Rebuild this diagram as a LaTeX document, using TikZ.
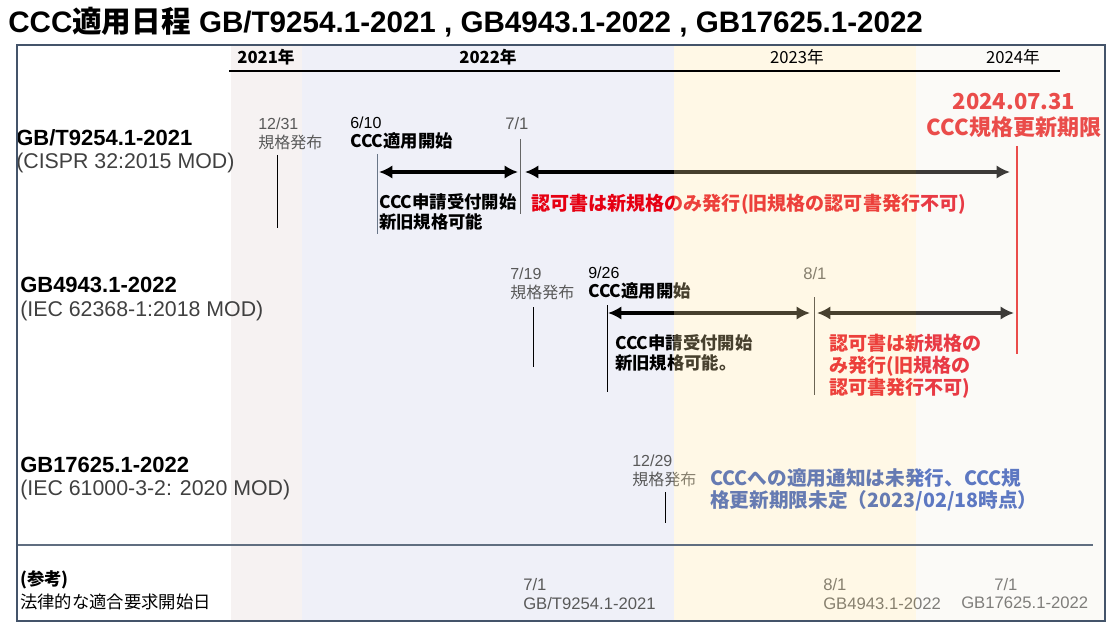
\documentclass[tikz,border=0pt]{standalone}
\usepackage{fontspec}
\setmainfont{Noto Sans CJK JP}
\newfontfamily\latinfont{Liberation Sans}
\usetikzlibrary{arrows.meta}

\definecolor{framec}{HTML}{44546A}
\definecolor{bgone}{HTML}{F6F2F2}
\definecolor{bgtwo}{HTML}{EFF0F8}
\definecolor{ovthree}{HTML}{FFE6A6}
\definecolor{ovfour}{HTML}{F0EBE0}
\definecolor{dategray}{HTML}{595959}
\definecolor{subgray}{HTML}{404040}
\definecolor{notered}{HTML}{E60012}
\definecolor{limitred}{HTML}{E81818}
\definecolor{noteblue}{HTML}{2C52B8}

\tikzset{
  txt/.style={anchor=west, inner sep=0pt, align=left},
  stdname/.style={txt, font=\latinfont\bfseries\fontsize{16.5pt}{20pt}\selectfont},
  stdorig/.style={txt, text=subgray, font=\latinfont\fontsize{16pt}{20pt}\selectfont},
  datetxt/.style={txt, text=dategray, font=\fontsize{12pt}{14.25pt}\selectfont},
  boldtxt/.style={txt, font=\bfseries\fontsize{13pt}{15pt}\selectfont},
  rednote/.style={txt, text=notered, font=\bfseries\fontsize{14.3pt}{16.5pt}\selectfont},
  yearhd/.style={inner sep=0pt, font=\fontsize{12.5pt}{14pt}\selectfont},
  tick/.style={line width=0.75pt},
  period/.style={line width=2.8pt, {Latex[length=10pt,width=10pt]}-{Latex[length=10pt,width=10pt]}},
}

\begin{document}
\begin{tikzpicture}[x=0.75pt,y=-0.75pt]
	\useasboundingbox (0,0) rectangle (1114,631);
	% year columns under the content
	\fill[bgone] (231,45) rectangle (302,621);
	\fill[bgtwo] (302,45) rectangle (674,621);

	% title
	\node (title) at (8,22)[txt, font=\bfseries\fontsize{22.2pt}{24pt}\selectfont] {{\latinfont CCC}適用日程{\latinfont\ GB/T9254.1-2021 , GB4943.1-2022 , GB17625.1-2022}};

	% GB/T9254.1-2021
	\node (gbt) at (16,138)[stdname] {GB/T9254.1-2021};
	\node (cispr) at (16,163)[stdorig] {(CISPR 32:2015 MOD)};
	\node (pubA) at (258,133.5)[datetxt] {{\latinfont 12/31}\\規格発布};
	\node (cccA) at (350,133.5)[datetxt, text=black] {{\latinfont 6/10}\\\textbf{\fontsize{13pt}{15pt}\selectfont CCC適用開始}};
	\node (reqA) at (505,124)[datetxt, font=\latinfont\fontsize{12.5pt}{14pt}\selectfont] {7/1};
	\node (accA) at (379,212)[boldtxt] {CCC申請受付開始\\新旧規格可能};
	\node (onlyA) at (531,204)[rednote] {認可書は新規格のみ発行(旧規格の認可書発行不可)};
	\coordinate (tA1) at (277,155); \coordinate (bA1) at (277,228);
	\coordinate (tA2) at (377,154); \coordinate (bA2) at (377,234);
	\coordinate (tA3) at (520,139); \coordinate (bA3) at (520,214);
	\draw[tick] (tA1) -- (bA1);
	\draw[tick, framec!80] (tA2) -- (bA2);
	\draw[tick, black!60] (tA3) -- (bA3);
	\coordinate (aA1) at (379,172); \coordinate (aA2) at (518,172);
	\coordinate (aA3) at (525,172); \coordinate (aA4) at (1010,172);
	\draw[period] (aA1) -- (aA2);
	\draw[period] (aA3) -- (aA4);

	% deadline
	\node (limit) at (1014,115)[align=center, inner sep=0pt, text=limitred, font=\bfseries\fontsize{16.5pt}{19.5pt}\selectfont] {2024.07.31\\CCC規格更新期限};
	\coordinate (lim1) at (1017,146); \coordinate (lim2) at (1017,354);
	\draw[limitred, line width=2.2pt] (lim1) -- (lim2);

	% GB4943.1-2022
	\node (gbb) at (20,285)[stdname] {GB4943.1-2022};
	\node (iecB) at (20,311)[stdorig] {(IEC 62368-1:2018 MOD)};
	\node (pubB) at (510,283.5)[datetxt] {{\latinfont 7/19}\\規格発布};
	\node (cccB) at (588,283.5)[datetxt, text=black] {{\latinfont 9/26}\\\textbf{\fontsize{13pt}{15pt}\selectfont CCC適用開始}};
	\node (reqB) at (803,274)[datetxt, font=\latinfont\fontsize{12.5pt}{14pt}\selectfont] {8/1};
	\node (accB) at (615,353)[boldtxt] {CCC申請受付開始\\新旧規格可能。};
	\node (onlyB) at (829,366)[rednote] {認可書は新規格の\\み発行(旧規格の\\認可書発行不可)};
	\coordinate (tB1) at (533,307); \coordinate (bB1) at (533,367);
	\coordinate (tB2) at (607,305); \coordinate (bB2) at (607,392);
	\coordinate (tB3) at (814,297); \coordinate (bB3) at (814,395);
	\draw[tick] (tB1) -- (bB1);
	\draw[tick] (tB2) -- (bB2);
	\draw[tick, black!80] (tB3) -- (bB3);
	\coordinate (aB1) at (608,313); \coordinate (aB2) at (810,313);
	\coordinate (aB3) at (817,313); \coordinate (aB4) at (1014,313);
	\draw[period] (aB1) -- (aB2);
	\draw[period] (aB3) -- (aB4);

	% GB17625.1-2022
	\node (gbc) at (20,465)[stdname] {GB17625.1-2022};
	\node (iecC) at (20,490)[stdorig] {(IEC 61000-3-2: 2020 MOD)};
	\node (pubC) at (632,471)[datetxt] {{\latinfont 12/29}\\規格発布};
	\node (noteC) at (710,490)[txt, text=noteblue, font=\bfseries\fontsize{14.75pt}{16.5pt}\selectfont] {CCCへの適用通知は未発行、CCC規\\格更新期限未定（2023/02/18時点）};
	\coordinate (tC1) at (665,492); \coordinate (bC1) at (665,523);
	\draw[tick] (tC1) -- (bC1);

	% reference dates
	\node (refhd) at (20,590.5)[txt, font=\fontsize{13pt}{17pt}\selectfont] {\textbf{(参考)}\\法律的な適合要求開始日};
	\node (lawA) at (523,594)[datetxt, font=\latinfont\fontsize{12.5pt}{14.25pt}\selectfont] {7/1\\GB/T9254.1-2021};
	\node (lawB) at (823,594)[datetxt, font=\latinfont\fontsize{12.5pt}{14.25pt}\selectfont] {8/1\\GB4943.1-2022};
	\node (lawCd) at (994,585)[datetxt, font=\latinfont\fontsize{12.5pt}{14pt}\selectfont] {7/1};
	\node (lawCs) at (961,603)[datetxt, font=\latinfont\fontsize{12.5pt}{14pt}\selectfont] {GB17625.1-2022};

	% year columns over the content
	\fill[ovthree, opacity=0.28] (674,45) rectangle (916,621);
	\fill[ovfour, opacity=0.25] (916,45) rectangle (1105,621);

	% year header
	\node (yr1) at (266,57)[yearhd, font=\bfseries\fontsize{12.5pt}{14pt}\selectfont] {2021年};
	\node (yr2) at (488,57)[yearhd, font=\bfseries\fontsize{12.5pt}{14pt}\selectfont] {2022年};
	\node (yr3) at (797,57)[yearhd] {2023年};
	\node (yr4) at (1013,57)[yearhd] {2024年};
	\coordinate (hd1) at (229,71); \coordinate (hd2) at (1060,71);
	\draw[line width=0.9pt] (hd1) -- (hd2);

	% frame and separator
	\coordinate (fr1) at (17,45); \coordinate (fr2) at (1105,621);
	\coordinate (sp1) at (17,545); \coordinate (sp2) at (1093,545);
	\draw[framec!85, line width=0.8pt] (sp1) -- (sp2);
	\draw[framec, line width=1.1pt] (fr1) rectangle (fr2);
\end{tikzpicture}
\end{document}
